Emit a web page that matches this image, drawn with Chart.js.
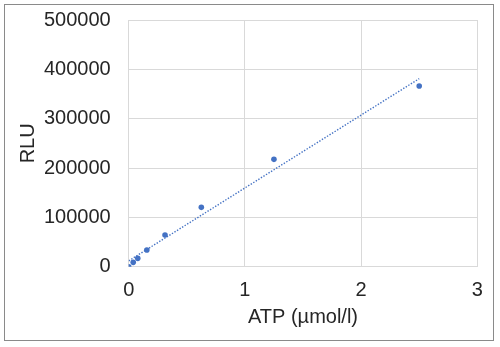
<!DOCTYPE html>
<html>
<head>
<meta charset="utf-8">
<script src="https://cdn.jsdelivr.net/npm/chart.js@4/dist/chart.umd.min.js"></script>
<style>
  html, body { margin: 0; padding: 0; background: #fff; }
  #wrap { position: relative; width: 500px; height: 347px; }
  #frame {
    position: absolute; left: 4px; top: 4px; width: 488px; height: 335px;
    border: 1.5px solid #8a8a8a; pointer-events: none;
  }
</style>
</head>
<body>
<div id="wrap">
  <canvas id="atpChart" width="500" height="347"></canvas>
  <div id="frame"></div>
</div>
<script>
// ATP standard curve: serial dilution vs. luminescence
const atpConc = [0, 0.039, 0.078, 0.156, 0.3125, 0.625, 1.25, 2.5];
const rluValues = [0, 8800, 16900, 33800, 64200, 120300, 217600, 366200];
const xTicks = [0, 1, 2, 3];
const yTicks = [0, 100000, 200000, 300000, 400000, 500000];

const BLUE = '#4472C4';
const GRID = '#d9d9d9';
const TEXT = '#262626';
const FONT = 'Liberation Sans, Arial, sans-serif';

// least-squares linear trendline over the measured points
function linearFit(xs, ys) {
    const n = xs.length;
    const mx = xs.reduce((a, b) => a + b, 0) / n;
    const my = ys.reduce((a, b) => a + b, 0) / n;
    let sxy = 0, sxx = 0;
    xs.forEach((x, i) => {
        sxy += (x - mx) * (ys[i] - my);
        sxx += (x - mx) * (x - mx);
    });
    const slope = sxy / sxx;
    return { slope, intercept: my - slope * mx };
}

const fit = linearFit(atpConc, rluValues);
const xFirst = atpConc[0];
const xLast = atpConc[atpConc.length - 1];
const trendPoints = [xFirst, xLast].map(x => ({ x, y: fit.intercept + fit.slope * x }));

new Chart(document.getElementById('atpChart'), {
    type: 'scatter',
    data: {
        datasets: [
            {
                label: 'RLU',
                data: atpConc.map((x, i) => ({ x, y: rluValues[i] })),
                backgroundColor: BLUE,
                borderColor: BLUE,
                pointRadius: 2.8,
                pointBorderWidth: 0,
                order: 1
            },
            {
                label: 'Linear',
                type: 'line',
                data: trendPoints,
                borderColor: BLUE,
                borderWidth: 1.4,
                borderDash: [1.4, 1.6],
                pointRadius: 0,
                fill: false,
                order: 2
            }
        ]
    },
    options: {
        responsive: false,
        animation: false,
        layout: { padding: { top: 20, right: 22.7, bottom: 0, left: 0 } },
        plugins: {
            legend: { display: false },
            tooltip: { enabled: false }
        },
        scales: {
            x: {
                type: 'linear',
                min: xTicks[0],
                max: xTicks[xTicks.length - 1],
                afterBuildTicks: s => { s.ticks = xTicks.map(v => ({ value: v })); },
                afterFit: s => { s.height = 80.3; s.paddingLeft = 0; s.paddingRight = 0; },
                grid: { color: GRID, lineWidth: 1, drawTicks: false },
                border: { color: GRID, width: 1 },
                ticks: {
                    color: TEXT,
                    padding: 12,
                    font: { family: FONT, size: 20 },
                    callback: v => String(v)
                },
                title: {
                    display: true,
                    text: 'ATP (µmol/l)',
                    color: TEXT,
                    padding: 18,
                    font: { family: FONT, size: 20 }
                }
            },
            y: {
                min: yTicks[0],
                max: yTicks[yTicks.length - 1],
                afterBuildTicks: s => { s.ticks = yTicks.map(v => ({ value: v })); },
                afterFit: s => { s.width = 128.7; s.paddingTop = 0; s.paddingBottom = 0; },
                grid: { color: GRID, lineWidth: 1, drawTicks: false },
                border: { color: GRID, width: 1 },
                ticks: {
                    color: TEXT,
                    padding: 18,
                    font: { family: FONT, size: 20 },
                    callback: v => String(v)
                },
                title: {
                    display: true,
                    text: 'RLU',
                    color: TEXT,
                    padding: 16,
                    font: { family: FONT, size: 20 }
                }
            }
        }
    }
});
</script>
</body>
</html>
